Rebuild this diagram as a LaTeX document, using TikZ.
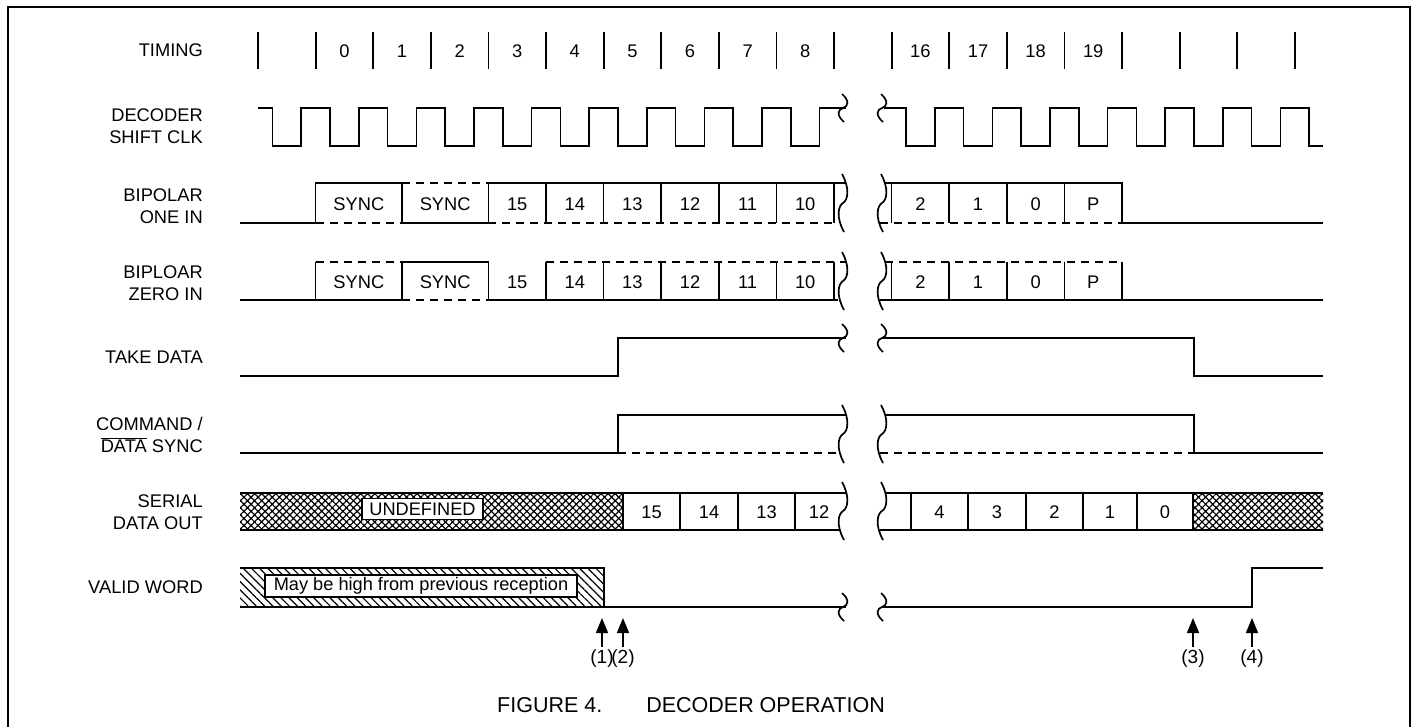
\documentclass[tikz,border=0pt]{standalone}
\usepackage{fontspec}
\setmainfont{Liberation Sans}
\usetikzlibrary{patterns.meta,arrows.meta}
\newcommand\sqg[3]{\draw[sig] ({#1-1},{#2-#3}) .. controls ({#1+7},{#2-0.5*#3}) and ({#1+5},{#2-0.1*#3}) .. (#1,#2) .. controls ({#1-5},{#2+0.1*#3}) and ({#1-7},{#2+0.5*#3}) .. ({#1+1},{#2+#3});}
\begin{document}
\begin{tikzpicture}[x=1pt,y=-1pt,
  sig/.style={line width=1.7pt,line join=miter},
  dsh/.style={line width=1.7pt,dash pattern=on 8pt off 6pt},
  tickln/.style={line width=1.8pt},
  lbl/.style={anchor=east,align=right,inner sep=0pt,font=\fontsize{18.3}{21.5}\selectfont},
  cell/.style={inner sep=0pt,font=\fontsize{18.3}{20}\selectfont},
  box/.style={draw,fill=white,line width=1.3pt,inner sep=0pt,font=\fontsize{18.2}{20}\selectfont},
  arr/.style={line width=1.6pt,-{Triangle[length=15pt,width=12pt]}},
  xh/.style={pattern={Hatch[angle=45,distance=5pt,line width=1.2pt]}},
  lh/.style={pattern={Lines[angle=-45,distance=5.8pt,line width=1.2pt]}}]
\useasboundingbox (0,0) rectangle (1416,727);
\draw[line width=2.5pt] (8,7) rectangle (1410,745);
% row labels
\node[lbl] (lt) at (203,50) {TIMING};
\node[lbl] (lc) at (203,126) {DECODER\\SHIFT CLK};
\node[lbl] (lo) at (203,206) {BIPOLAR\\ONE IN};
\node[lbl] (lz) at (203,283) {BIPLOAR\\ZERO IN};
\node[lbl] (ltd) at (203,357) {TAKE DATA};
\node[lbl] (lcd) at (203,435) {COMMAND /\\$\overline{\mbox{DATA}}$ SYNC};
\node[lbl] (ls) at (203,512) {SERIAL\\DATA OUT};
\node[lbl] (lv) at (203,587) {VALID WORD};
% timing
\foreach \k in {0,...,18} \draw[tickln] ({258+57.6*\k},32) -- ({258+57.6*\k},69);
\foreach \k/\t in {1/0,2/1,3/2,4/3,5/4,6/5,7/6,8/7,9/8,11/16,12/17,13/18,14/19}
  \node[cell] (t\k) at ({258+57.6*\k+28.8},51) {\t};
% clock
\draw[sig] (258,108) \foreach \k in {0,...,9}{ -- ({258+57.6*\k+14.4},108) -- ++(0,38) -- ++(28.8,0) -- ++(0,-38)} -- (846,108);
\draw[sig] (884,108) \foreach \k in {11,...,17}{ -- ({258+57.6*\k+14.4},108) -- ++(0,38) -- ++(28.8,0) -- ++(0,-38)} -- (1309.2,108) -- (1309.2,146) -- (1323,146);
\sqg{843}{108}{14} \sqg{882}{108}{14}
% bipolar one in
\draw[sig] (240,223) -- (315.6,223) -- (315.6,183) -- (402,183);
\draw[dsh] (315.6,223) -- (402,223);
\draw[sig] (402,183) -- (402,223) -- (488.4,223);
\draw[dsh] (402,183) -- (488.4,183);
\draw[sig] (488.4,223) -- (488.4,183) -- (846,183);
\draw[dsh] (488.4,223) -- (838,223);
\foreach \x in {546,603.6,661.2,718.8,776.4,834} \draw[sig] (\x,183) -- (\x,223);
\sqg{843}{203}{29} \sqg{882}{203}{29}
\draw[sig] (885,183) -- (1122,183) -- (1122,223) -- (1323,223);
\draw[dsh] (880,223) -- (1122,223);
\foreach \x in {891.6,949.2,1006.8,1064.4} \draw[sig] (\x,183) -- (\x,223);
\node[cell] (o1) at (358.8,204) {SYNC};
\node[cell] (o2) at (445.2,204) {SYNC};
\foreach \k/\t in {4/15,5/14,6/13,7/12,8/11,9/10,11/2,12/1,13/0,14/P}
  \node[cell] (o\k) at ({258+57.6*\k+28.8},204) {\t};
% bipolar zero in
\draw[sig] (240,300) -- (315.6,300) -- (315.6,262);
\draw[dsh] (315.6,262) -- (402,262);
\draw[sig] (315.6,300) -- (402,300);
\draw[sig] (402,300) -- (402,262) -- (488.4,262) -- (488.4,300) -- (838,300);
\draw[dsh] (402,300) -- (488.4,300);
\draw[dsh] (546,262) -- (846,262);
\foreach \x in {546,603.6,661.2,718.8,776.4,834} \draw[sig] (\x,262) -- (\x,300);
\sqg{843}{281}{29} \sqg{882}{281}{29}
\draw[dsh] (885,262) -- (1122,262);
\draw[sig] (880,300) -- (1323,300);
\foreach \x in {891.6,949.2,1006.8,1064.4,1122} \draw[sig] (\x,262) -- (\x,300);
\node[cell] (z1) at (358.8,282) {SYNC};
\node[cell] (z2) at (445.2,282) {SYNC};
\foreach \k/\t in {4/15,5/14,6/13,7/12,8/11,9/10,11/2,12/1,13/0,14/P}
  \node[cell] (z\k) at ({258+57.6*\k+28.8},282) {\t};
% take data
\draw[sig] (240,376) -- (618,376) -- (618,338) -- (846,338);
\sqg{843}{338}{14} \sqg{882}{338}{14}
\draw[sig] (882,338) -- (1194,338) -- (1194,376) -- (1323,376);
% command / data sync
\draw[sig] (240,453) -- (618,453) -- (618,415) -- (846,415);
\draw[dsh] (618,453) -- (840,453);
\sqg{843}{434}{29} \sqg{882}{434}{29}
\draw[sig] (885,415) -- (1194,415) -- (1194,453) -- (1323,453);
\draw[dsh] (880,453) -- (1194,453);
% serial data out
\fill[xh] (240,493) rectangle (623,530);
\fill[xh] (1193,493) rectangle (1323,530);
\draw[sig] (240,493) -- (846,493);
\draw[sig] (240,530) -- (840,530);
\foreach \x in {623,680,738,795} \draw[sig] (\x,493) -- (\x,530);
\sqg{843}{511}{29} \sqg{882}{511}{29}
\draw[sig] (885,493) -- (1323,493);
\draw[sig] (880,530) -- (1323,530);
\foreach \x in {911,968,1026,1083,1137,1193} \draw[sig] (\x,493) -- (\x,530);
\node[box,minimum width=121pt,minimum height=21pt] (und) at (422.5,509) {UNDEFINED};
\foreach \n/\x/\t in {a/651.5/15,b/709/14,c/766.5/13,d/819/12,e/939.5/4,f/997/3,g/1054.5/2,h/1110/1,i/1165/0}
  \node[cell] (s\n) at (\x,512) {\t};
% valid word
\fill[lh] (240,568) rectangle (604,607);
\draw[sig] (240,568) -- (604,568) -- (604,607);
\draw[sig] (240,607) -- (846,607);
\sqg{843}{607}{14} \sqg{882}{607}{14}
\draw[sig] (882,607) -- (1252,607) -- (1252,568) -- (1323,568);
\node[box,minimum width=312pt,minimum height=22pt] (prev) at (421,586) {May be high from previous reception};
% arrows
\foreach \n/\x in {1/602,2/623,3/1193,4/1252}{
  \node[cell,font=\fontsize{19}{20}\selectfont] (m\n) at (\x,659) {(\n)};
  \coordinate (p\n) at (\x,618);
  \draw[arr] ([yshift=3pt]m\n.north) -- (p\n);
}
% caption
\node[font=\fontsize{21.5}{24}\selectfont,inner sep=0pt,anchor=west] (cap1) at (497,705) {FIGURE 4.};
\node[font=\fontsize{21.5}{24}\selectfont,inner sep=0pt,anchor=east] (cap2) at (885,705) {DECODER OPERATION};
\end{tikzpicture}
\end{document}
